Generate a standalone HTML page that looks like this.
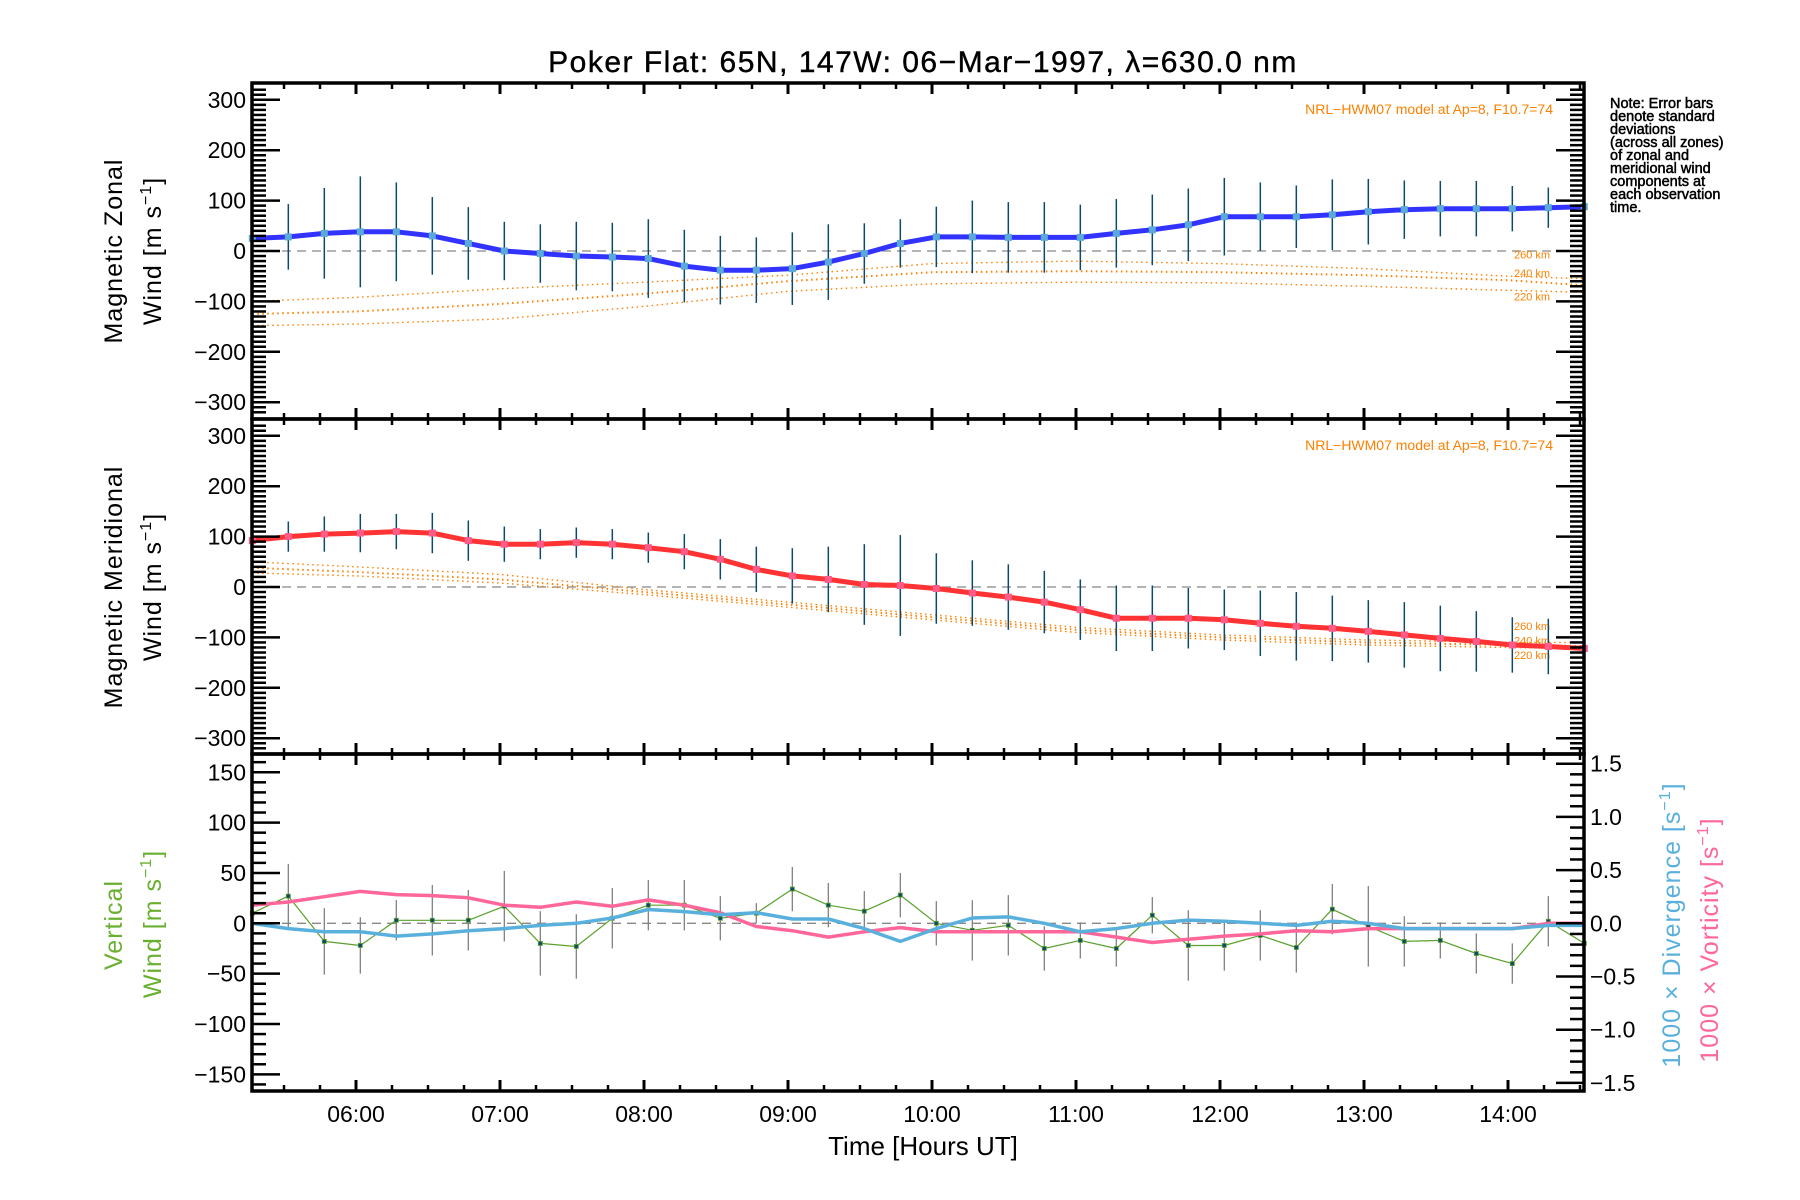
<!DOCTYPE html>
<html><head><meta charset="utf-8">
<style>
html,body{margin:0;padding:0;background:#fff;}
svg{display:block;font-family:"Liberation Sans",sans-serif;}
</style></head>
<body>
<svg id="chart" width="1800" height="1200" viewBox="0 0 1800 1200" xmlns="http://www.w3.org/2000/svg">
<rect x="0" y="0" width="1800" height="1200" fill="#fff"/>
<text x="923" y="72" font-size="30" text-anchor="middle" letter-spacing="1.5" stroke="#000" stroke-width="0.4">Poker Flat: 65N, 147W: 06−Mar−1997, λ=630.0 nm</text>
<text font-size="14.5" fill="#000" stroke="#000" stroke-width="0.5">
<tspan x="1610" y="108">Note: Error bars</tspan><tspan x="1610" y="121">denote standard</tspan><tspan x="1610" y="134">deviations</tspan><tspan x="1610" y="147">(across all zones)</tspan><tspan x="1610" y="160">of zonal and</tspan><tspan x="1610" y="173">meridional wind</tspan><tspan x="1610" y="186">components at</tspan><tspan x="1610" y="199">each observation</tspan><tspan x="1610" y="212">time.</tspan>
</text>
<g id="g"></g>
</svg>
<script>
const times=[5.28,5.53,5.78,6.03,6.28,6.53,6.78,7.03,7.28,7.53,7.78,8.03,8.28,8.53,8.78,9.03,9.28,9.53,9.78,10.03,10.28,10.53,10.78,11.03,11.28,11.53,11.78,12.03,12.28,12.53,12.78,13.03,13.28,13.53,13.78,14.03,14.28,14.53];
const zonal=[25,28,35,38,38,30,15,0,-5,-10,-12,-15,-30,-38,-38,-35,-22,-5,15,28,28,27,27,27,35,42,52,68,68,68,72,78,82,84,84,84,86,88];
const zonalErr=[62,65,90,110,98,77,72,58,58,68,68,78,72,68,65,72,75,60,48,60,72,70,70,65,68,70,72,77,68,62,70,65,58,55,55,45,40,40];
const merid=[92,100,105,107,110,107,92,85,85,88,85,78,70,55,35,22,15,5,3,-3,-12,-20,-30,-45,-62,-62,-62,-65,-72,-78,-82,-88,-95,-102,-108,-115,-118,-122];
const meridErr=[35,30,35,38,35,40,40,35,30,30,30,30,35,40,45,55,65,80,100,70,65,65,62,60,65,65,60,60,65,68,65,62,65,65,60,55,55,55];
const vert=[10,27,-18,-22,3,3,3,17,-20,-23,5,18,18,5,10,34,18,12,28,0,-7,-2,-25,-17,-25,8,-22,-22,-12,-24,14,-3,-18,-17,-30,-40,2,-20];
const vertErr=[25,32,33,28,20,35,30,35,32,32,30,25,25,22,10,22,22,20,22,22,30,30,22,18,18,18,35,25,25,25,25,40,25,18,20,20,25,25];
const diverg=[0,-5,-8,-8,-12,-10,-7,-5,-2,0,5,13,11,8,10,4,4,-5,-17,-5,5,6,0,-8,-5,0,3,2,0,-2,2,0,-5,-5,-5,-5,-2,-2];
const vortic=[17,20,25,30,27,26,24,17,15,20,16,22,17,10,-3,-7,-13,-8,-4,-8,-8,-8,-8,-8,-13,-18,-15,-12,-10,-7,-8,-5,-5,-5,-5,-5,0,0];
const modelT=[5.28,6,7,8,9,10,11,12,13,14,14.53];
const zonal260=[-100,-92,-75,-62,-48,-25,-20,-25,-35,-50,-55];
const zonal240=[-125,-120,-105,-85,-60,-42,-40,-42,-48,-58,-68];
const zonal220=[-148,-145,-135,-110,-80,-65,-62,-63,-70,-78,-82];
const merid260=[50,40,25,-5,-30,-55,-80,-95,-105,-110,-110];
const merid240=[38,30,15,-10,-35,-60,-85,-100,-110,-115,-117];
const merid220=[28,22,8,-15,-40,-65,-90,-105,-115,-120,-122];
const xTickLabels=["06:00","07:00","08:00","09:00","10:00","11:00","12:00","13:00","14:00"];
const xTickHours=[6,7,8,9,10,11,12,13,14];
const windTicks=[300,200,100,0,-100,-200,-300];
const vertTicks=[150,100,50,0,-50,-100,-150];
const rightTicks=[1.5,1.0,0.5,0.0,-0.5,-1.0,-1.5];

const NS='http://www.w3.org/2000/svg';
const G=document.getElementById('g');
const L=252,R=1584;
const X=t=>356+(t-6)*144;
const P1={top:83,bot:419,y0:251,k:0.504};
const P2={top:419,bot:754,y0:587,k:0.504};
const P3={top:754,bot:1091,y0:923.3,k:1.007};
const YR=v=>923.3-v*106.4;
const Y=(p,v)=>p.y0-v*p.k;
function el(tag,attrs,parent){const e=document.createElementNS(NS,tag);for(const k in attrs)e.setAttribute(k,attrs[k]);(parent||G).appendChild(e);return e;}
function line(x1,y1,x2,y2,st,w,name,extra){const e=el('line',Object.assign({x1,y1,x2,y2,stroke:st,'stroke-width':w},extra||{}));


return e;}
function poly(pts,st,w,name,extra){const e=el('polyline',Object.assign({points:pts.map(p=>p[0].toFixed(1)+','+p[1].toFixed(1)).join(' '),fill:'none',stroke:st,'stroke-width':w,'stroke-linejoin':'round'},extra||{}));


return e;}
function text(x,y,s,attrs,name){const e=el('text',Object.assign({x,y},attrs));e.textContent=s;


return e;}

function windPanel(p,main,err,col,mk,m260,m240,m220,pname){
  line(L,Y(p,0),R,Y(p,0),'#888',1.3,pname+'-zero-line',{'stroke-dasharray':'9,6'});
  [[m260,'260 km',1.4],[m240,'240 km',2],[m220,'220 km',1.4]].forEach(([arr,lab,w])=>{
    poly(modelT.map((t,i)=>[X(t),Y(p,arr[i])]),'#ff8000',w,pname+'-model-'+lab.replace(' ',''),{'stroke-dasharray':'1.5,3.5'});
    text(1532,Y(p,arr[arr.length-3])+ (lab==='260 km'?-10:lab==='240 km'?2:14),lab,{'font-size':11,fill:'#ff8000','text-anchor':'middle'},pname+'-model-label');
  });
  text(1553,p.top+31,'NRL−HWM07 model at Ap=8, F10.7=74',{'font-size':14,fill:'#ff8000','text-anchor':'end'},pname+'-model-note');
  times.forEach((t,i)=>{line(X(t),Y(p,main[i]+err[i]),X(t),Y(p,main[i]-err[i]),'#0b4a6e',1.5,pname+'-error-bar');});
  poly(times.map((t,i)=>[X(t),Y(p,main[i])]),col,5,pname+'-mean-line');
  times.forEach((t,i)=>{const r=el('rect',{x:X(t)-3.5,y:Y(p,main[i])-3.5,width:7,height:7,fill:mk});
    
    });
}
windPanel(P1,zonal,zonalErr,'#3333ff','#5aaad8',zonal260,zonal240,zonal220,'zonal');
windPanel(P2,merid,meridErr,'#ff3333','#ff5c8a',merid260,merid240,merid220,'meridional');

line(L,P3.y0,R,P3.y0,'#888',1.3,'vertical-zero-line',{'stroke-dasharray':'9,6'});
times.forEach((t,i)=>{line(X(t),Y(P3,vert[i]+vertErr[i]),X(t),Y(P3,vert[i]-vertErr[i]),'#808080',1.3,'vertical-error-bar');});
poly(times.map((t,i)=>[X(t),Y(P3,vert[i])]),'#5aa02c',1.2,'vertical-wind-line');
times.forEach((t,i)=>{const r=el('rect',{x:X(t)-2,y:Y(P3,vert[i])-2,width:4,height:4,fill:'#0b4a6e',stroke:'#5aa02c','stroke-width':0.8});
  
  });
poly(times.map((t,i)=>[X(t),YR(vortic[i]/100)]),'#ff6699',3.5,'vorticity-line');
poly(times.map((t,i)=>[X(t),YR(diverg[i]/100)]),'#5ab0dd',3.5,'divergence-line');

[P1,P2,P3].forEach((p,pi)=>{const r=el('rect',{x:L,y:p.top,width:R-L,height:p.bot-p.top,fill:'none',stroke:'#000','stroke-width':3.5});
  
  });
[P1,P2,P3].forEach(p=>{
  for(let q=5.5;q<=14.5;q+=0.25){const x=X(q);const major=Math.abs(q-Math.round(q))<1e-6;const len=major?11:6;
    line(x,p.top,x,p.top+len,'#000',major?3:2.5,'x-tick');
    line(x,p.bot,x,p.bot-len,'#000',major?3:2.5,'x-tick');}
});
xTickHours.forEach((h,i)=>text(X(h),1122,xTickLabels[i],{'font-size':23,'text-anchor':'middle'},'x-tick-label'));
text(923,1155,'Time [Hours UT]',{'font-size':26,'text-anchor':'middle'},'x-axis-title');
[P1,P2].forEach(p=>{
  for(let v=-330;v<=330;v+=10){const y=Y(p,v);if(y<p.top+2||y>p.bot-2)continue;const major=v%100===0;const len=major?28:14;
    line(L,y,L+len,y,'#000',2.5,'y-tick');line(R,y,R-len,y,'#000',2.5,'y-tick');}
  windTicks.forEach(v=>text(246,Y(p,v)+8,v<0?'−'+(-v):String(v),{'font-size':23,'text-anchor':'end'},'y-tick-label'));
});
for(let v=-160;v<=160;v+=10){const y=Y(P3,v);if(y<P3.top+2||y>P3.bot-2)continue;const major=v%50===0;line(L,y,L+(major?28:14),y,'#000',2.5,'y-tick');}
vertTicks.forEach(v=>text(246,Y(P3,v)+8,v<0?'−'+(-v):String(v),{'font-size':23,'text-anchor':'end'},'y-tick-label'));
for(let v=-15;v<=15;v++){const y=YR(v/10);if(y<P3.top+2||y>P3.bot-2)continue;const major=v%5===0;line(R,y,R-(major?28:14),y,'#000',2.5,'right-y-tick');}
rightTicks.forEach(v=>text(1590,YR(v)+8,(v<0?'−':'')+Math.abs(v).toFixed(1),{'font-size':23,'text-anchor':'start'},'right-y-tick-label'));

function vtitle(x,y,s,col,name,sup){const e=el('text',{transform:`translate(${x},${y}) rotate(-90)`,'font-size':25,'text-anchor':'middle',fill:col,'letter-spacing':1});
  
  
  if(sup){e.appendChild(document.createTextNode(s));const t=el('tspan',{dy:-10,'font-size':16},e);t.textContent='−1';const t2=el('tspan',{dy:10},e);t2.textContent=']';}
  else e.textContent=s;}
vtitle(122,251,'Magnetic Zonal','#000','zonal-axis-title');
vtitle(161,251,'Wind [m s','#000','zonal-axis-units',true);
vtitle(122,587,'Magnetic Meridional','#000','meridional-axis-title');
vtitle(161,587,'Wind [m s','#000','meridional-axis-units',true);
vtitle(122,925,'Vertical','#6ab030','vertical-axis-title');
vtitle(161,924,'Wind [m s','#6ab030','vertical-axis-units',true);
vtitle(1680,925,'1000 × Divergence [s','#5ab0dd','divergence-axis-title',true);
vtitle(1718,940,'1000 × Vorticity [s','#ff6699','vorticity-axis-title',true);
</script>
</body></html>
